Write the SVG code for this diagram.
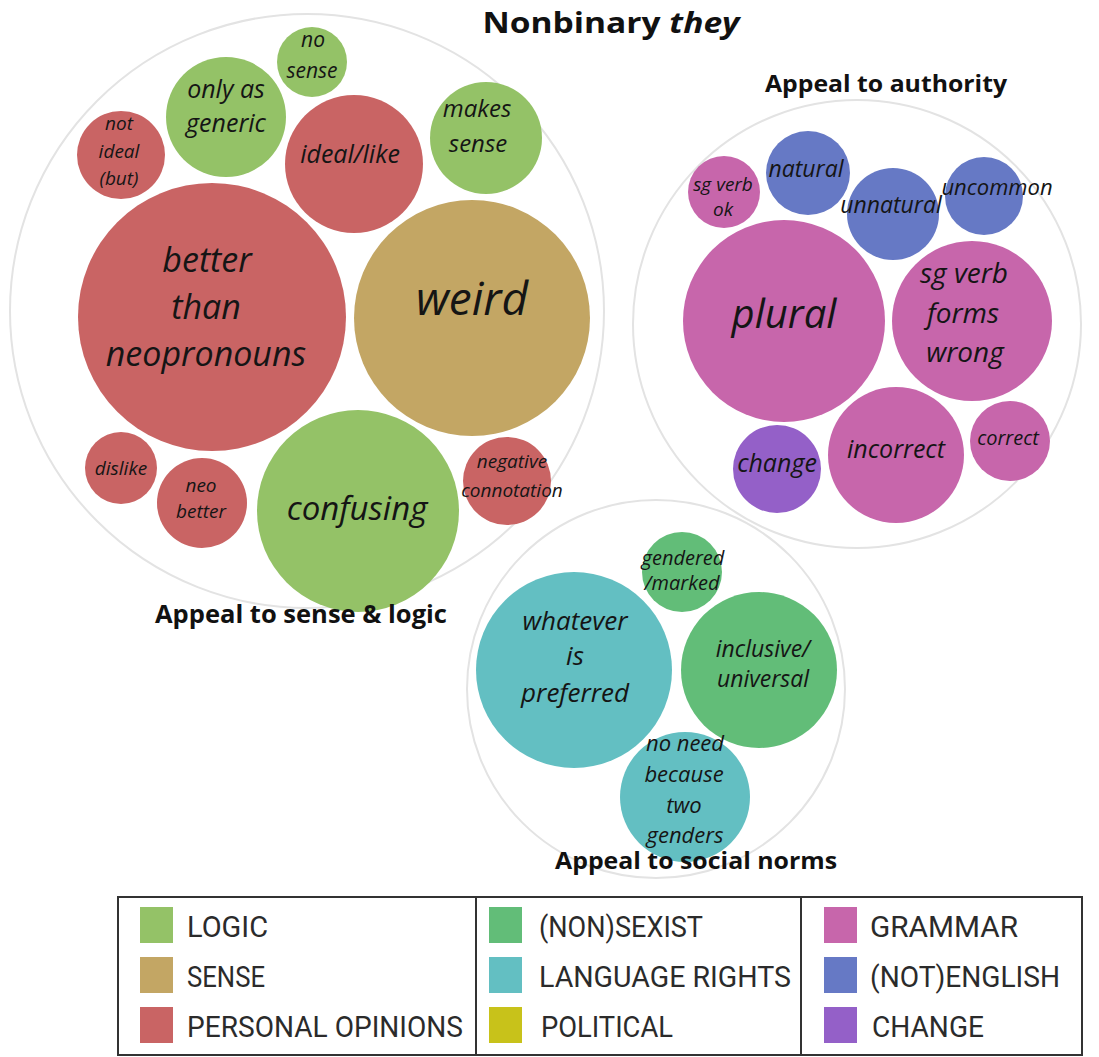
<svg xmlns="http://www.w3.org/2000/svg" width="1099" height="1057" viewBox="0 0 1099 1057">
<style>
.bg{fill:#ffffff}
.outer{fill:none;stroke:#e3e3e3;stroke-width:2}
.logic{fill:#94c267}
.sense{fill:#c3a664}
.opin{fill:#c96464}
.gram{fill:#c766ab}
.eng{fill:#6679c5}
.chg{fill:#9460c8}
.sex{fill:#62bd78}
.rights{fill:#63bfc2}
.pol{fill:#c8c21a}
.t{font-family:"Open Sans","Noto Sans","DejaVu Sans",sans-serif;font-style:italic;fill:#151515;text-anchor:middle}
.h{font-family:"Open Sans","Noto Sans","DejaVu Sans",sans-serif;font-weight:bold;fill:#111;text-anchor:middle}
.lg{font-family:Roboto,"Open Sans","Liberation Sans",sans-serif;fill:#2b2b2b;font-size:30px}
.box{fill:none;stroke:#333;stroke-width:2}
</style>
<rect class="bg" x="0" y="0" width="1099" height="1057"/>

<text class="h" x="611" y="33" font-size="28" textLength="257" lengthAdjust="spacingAndGlyphs">Nonbinary <tspan font-style="italic">they</tspan></text>

<g id="cluster-sense-logic">
  <circle class="outer" cx="307" cy="311" r="297"/>
</g>
<g id="cluster-authority">
  <circle class="outer" cx="857" cy="324" r="224"/>
</g>
<g id="cluster-social">
  <circle class="outer" cx="656" cy="689" r="189"/>
</g>

<g id="connectors"></g>

<!-- Cluster 1 -->
<g id="no-sense"><circle class="logic" cx="312" cy="62" r="35"/>
  <text class="t" font-size="21"><tspan x="313" y="47">no</tspan><tspan x="312" y="78">sense</tspan></text></g>
<g id="only-as-generic"><circle class="logic" cx="226" cy="117" r="60"/>
  <text class="t" font-size="25"><tspan x="226" y="98">only as</tspan><tspan x="226" y="132">generic</tspan></text></g>
<g id="not-ideal-but"><circle class="opin" cx="121" cy="155" r="44"/>
  <text class="t" font-size="19"><tspan x="119" y="130">not</tspan><tspan x="119" y="158">ideal</tspan><tspan x="119" y="185">(but)</tspan></text></g>
<g id="ideal-like"><circle class="opin" cx="354" cy="164" r="69"/>
  <text class="t" font-size="25" x="350" y="163">ideal/like</text></g>
<g id="makes-sense"><circle class="logic" cx="486" cy="138" r="56"/>
  <text class="t" font-size="24"><tspan x="477" y="117">makes</tspan><tspan x="478" y="152">sense</tspan></text></g>
<g id="better-than-neopronouns"><circle class="opin" cx="212" cy="317" r="134"/>
  <text class="t" font-size="34"><tspan x="207" y="272">better</tspan><tspan x="206" y="319">than</tspan><tspan x="206" y="366">neopronouns</tspan></text></g>
<g id="weird"><circle class="sense" cx="472" cy="318" r="118"/>
  <text class="t" font-size="46" x="472" y="315">weird</text></g>
<g id="dislike"><circle class="opin" cx="121" cy="468" r="36"/>
  <text class="t" font-size="19" x="121" y="475">dislike</text></g>
<g id="neo-better"><circle class="opin" cx="202" cy="503" r="45"/>
  <text class="t" font-size="19"><tspan x="201" y="492">neo</tspan><tspan x="201" y="518">better</tspan></text></g>
<g id="confusing"><circle class="logic" cx="358" cy="511" r="101"/>
  <text class="t" font-size="33" x="357" y="520">confusing</text></g>
<g id="negative-connotation"><circle class="opin" cx="507" cy="481" r="44"/>
  <text class="t" font-size="19"><tspan x="512" y="468">negative</tspan><tspan x="512" y="497">connotation</tspan></text></g>

<!-- Cluster 2 -->
<g id="sg-verb-ok"><circle class="gram" cx="724" cy="192" r="36"/>
  <text class="t" font-size="19"><tspan x="723" y="191">sg verb</tspan><tspan x="723" y="216">ok</tspan></text></g>
<g id="natural"><circle class="eng" cx="808" cy="173" r="42"/>
  <text class="t" font-size="23" x="806" y="177">natural</text></g>
<g id="unnatural"><circle class="eng" cx="893" cy="214" r="46"/>
  <text class="t" font-size="23" x="891" y="213">unnatural</text></g>
<g id="uncommon"><circle class="eng" cx="984" cy="196" r="39"/>
  <text class="t" font-size="22" x="997" y="195">uncommon</text></g>
<g id="plural"><circle class="gram" cx="784" cy="321" r="101"/>
  <text class="t" font-size="40" x="784" y="328">plural</text></g>
<g id="sg-verb-forms-wrong"><circle class="gram" cx="972" cy="321" r="80"/>
  <text class="t" font-size="28"><tspan x="964" y="283">sg verb</tspan><tspan x="963" y="323">forms</tspan><tspan x="965" y="362">wrong</tspan></text></g>
<g id="change"><circle class="chg" cx="777" cy="469" r="44"/>
  <text class="t" font-size="25" x="777" y="472">change</text></g>
<g id="incorrect"><circle class="gram" cx="896" cy="455" r="68"/>
  <text class="t" font-size="25" x="896" y="458">incorrect</text></g>
<g id="correct"><circle class="gram" cx="1010" cy="441" r="40"/>
  <text class="t" font-size="20" x="1008" y="445">correct</text></g>

<!-- Cluster 3 -->
<g id="gendered-marked"><circle class="sex" cx="682" cy="572" r="40"/>
  <text class="t" font-size="20"><tspan x="683" y="565">gendered</tspan><tspan x="682" y="590">/marked</tspan></text></g>
<g id="whatever-is-preferred"><circle class="rights" cx="574" cy="670" r="98"/>
  <text class="t" font-size="26"><tspan x="575" y="630">whatever</tspan><tspan x="575" y="665">is</tspan><tspan x="575" y="702">preferred</tspan></text></g>
<g id="inclusive-universal"><circle class="sex" cx="759" cy="670" r="78"/>
  <text class="t" font-size="23"><tspan x="763" y="657">inclusive/</tspan><tspan x="763" y="687">universal</tspan></text></g>
<g id="no-need-two-genders"><circle class="rights" cx="685" cy="797" r="65"/>
  <text class="t" font-size="22"><tspan x="685" y="751">no need</tspan><tspan x="684" y="782">because</tspan><tspan x="684" y="813">two</tspan><tspan x="685" y="843">genders</tspan></text></g>

<!-- Cluster labels (on top) -->
<g id="cluster-labels">
  <text class="h" x="301" y="623" font-size="25" textLength="292" lengthAdjust="spacingAndGlyphs">Appeal to sense &amp; logic</text>
  <text class="h" x="886" y="92" font-size="24" textLength="242" lengthAdjust="spacingAndGlyphs">Appeal to authority</text>
  <text class="h" x="696" y="869" font-size="24" textLength="282" lengthAdjust="spacingAndGlyphs">Appeal to social norms</text>
</g>

<!-- Legend -->
<g id="legend">
  <rect class="box" x="118" y="897" width="964" height="158"/>
  <line class="box" x1="476" y1="897" x2="476" y2="1055"/>
  <line class="box" x1="801" y1="897" x2="801" y2="1055"/>
  <rect class="logic" x="140" y="907" width="33" height="36"/>
  <rect class="sense" x="140" y="957" width="33" height="36"/>
  <rect class="opin" x="140" y="1007" width="33" height="36"/>
  <rect class="sex" x="489" y="907" width="33" height="36"/>
  <rect class="rights" x="489" y="957" width="33" height="36"/>
  <rect class="pol" x="489" y="1007" width="33" height="36"/>
  <rect class="gram" x="824" y="907" width="33" height="36"/>
  <rect class="eng" x="824" y="957" width="33" height="36"/>
  <rect class="chg" x="824" y="1007" width="33" height="36"/>
  <text class="lg" x="187" y="937" textLength="81" lengthAdjust="spacingAndGlyphs">LOGIC</text>
  <text class="lg" x="187" y="987" textLength="78" lengthAdjust="spacingAndGlyphs">SENSE</text>
  <text class="lg" x="187" y="1037" textLength="276" lengthAdjust="spacingAndGlyphs">PERSONAL OPINIONS</text>
  <text class="lg" x="539" y="937" textLength="164" lengthAdjust="spacingAndGlyphs">(NON)SEXIST</text>
  <text class="lg" x="539" y="987" textLength="252" lengthAdjust="spacingAndGlyphs">LANGUAGE RIGHTS</text>
  <text class="lg" x="541" y="1037" textLength="132" lengthAdjust="spacingAndGlyphs">POLITICAL</text>
  <text class="lg" x="870" y="937" textLength="148" lengthAdjust="spacingAndGlyphs">GRAMMAR</text>
  <text class="lg" x="870" y="987" textLength="190" lengthAdjust="spacingAndGlyphs">(NOT)ENGLISH</text>
  <text class="lg" x="872" y="1037" textLength="112" lengthAdjust="spacingAndGlyphs">CHANGE</text>
</g>
</svg>
